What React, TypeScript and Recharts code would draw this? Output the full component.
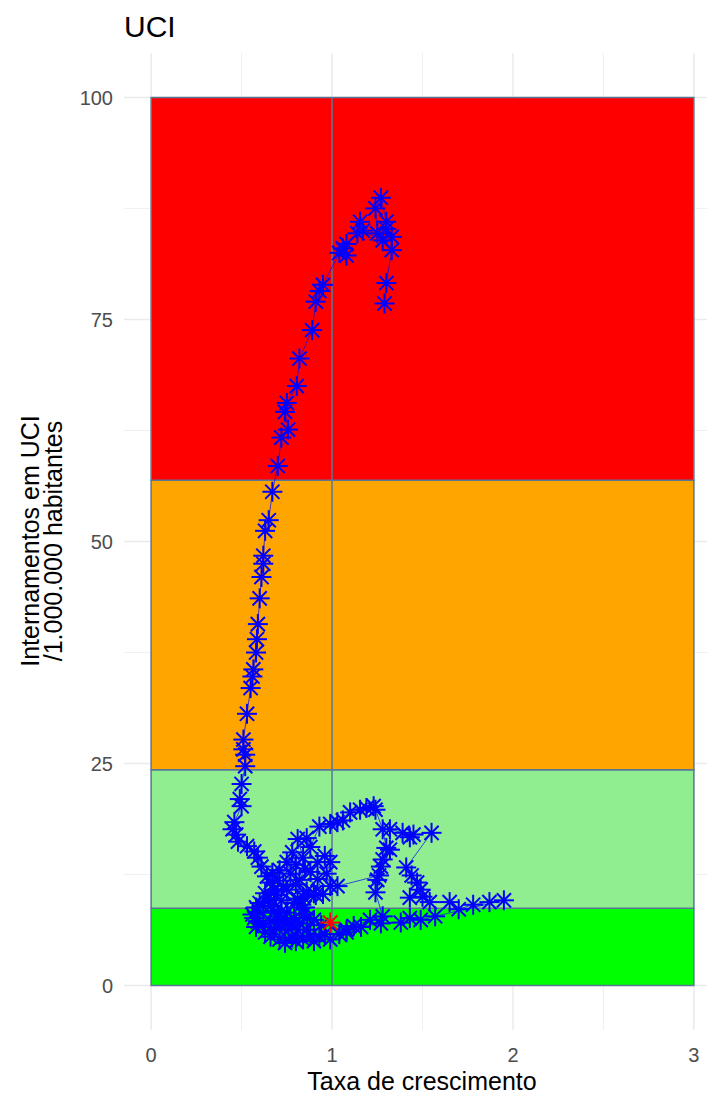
import { ScatterChart, Scatter, XAxis, YAxis, CartesianGrid, ReferenceArea, ReferenceLine } from 'recharts';

// taxa de crescimento (x) e internamentos em UCI por milhão (y), por ordem cronológica, em troços
// pico e descida
const taxaPico = [
    1.29, 1.30, 1.33, 1.33, 1.30, 1.30, 1.27, 1.24, 1.25, 1.28, 1.17, 1.155, 1.14, 1.08, 1.06, 1.08, 1.04,
    0.95, 0.93, 0.91, 0.89, 0.82, 0.805, 0.75, 0.74, 0.757, 0.72, 0.70, 0.67, 0.65, 0.63, 0.62, 0.62, 0.61,
    0.60, 0.59, 0.585, 0.58, 0.565, 0.56, 0.55, 0.53, 0.51, 0.51, 0.52, 0.52, 0.50, 0.49, 0.50, 0.46, 0.45,
    0.47, 0.48,
];
const uciPico = [
    76.8, 79.1, 82.8, 84.3, 85.2, 86.0, 88.7, 87.5, 84.7, 83.9, 85.0, 86.0, 84.7, 83.5, 83.0, 82.2, 82.5,
    78.9, 78.2, 77.0, 73.8, 70.6, 67.5, 65.6, 64.6, 62.6, 61.7, 58.5, 55.6, 52.4, 51.2, 48.4, 47.5, 46.0,
    43.6, 40.7, 39.0, 37.5, 35.6, 34.8, 33.5, 30.6, 27.7, 26.6, 26.0, 24.7, 22.7, 21.0, 20.2, 18.4, 17.6,
    17.0, 16.2,
];
// caracol até ao mínimo
const taxaMinimo = [
    0.53, 0.57, 0.59, 0.61, 0.64, 0.66, 0.68, 0.63, 0.65, 0.60, 0.62, 0.58, 0.60, 0.56, 0.57, 0.59, 0.58,
    0.62, 0.63, 0.66, 0.66, 0.69, 0.68, 0.72, 0.71, 0.74, 0.76, 0.78, 0.80, 0.81, 0.84, 0.86, 0.88, 0.90,
    0.93, 0.96, 0.99, 1.04,
];
const uciMinimo = [
    15.7, 15.1, 14.4, 13.4, 12.3, 11.6, 10.8, 10.4, 9.8, 9.3, 9.0, 8.8, 8.2, 8.0, 7.6, 7.2, 6.6,
    7.0, 6.0, 5.5, 7.3, 6.6, 6.2, 7.4, 5.2, 4.8, 6.4, 5.4, 5.0, 6.3, 5.2, 6.3, 5.6, 5.0,
    5.5, 5.8, 5.2, 5.8,
];
// subida de verão
const taxaVerao = [1.08, 1.12, 1.21, 1.28, 1.24, 1.25, 1.27, 1.28, 1.30, 1.28, 1.24, 1.23, 1.19, 1.155, 1.10, 1.06, 1.03, 0.99, 0.93];
const uciVerao = [6.0, 6.7, 7.4, 7.8, 10.5, 11.9, 13.4, 14.2, 15.5, 17.6, 19.8, 20.2, 20.0, 19.8, 19.5, 18.6, 18.4, 18.2, 17.9];
// nova descida
const taxaOutono = [
    0.88, 0.86, 0.81, 0.84, 0.78, 0.80, 0.75, 0.77, 0.71, 0.67, 0.70, 0.73, 0.75, 0.69, 0.66, 0.68, 0.72,
    0.75, 0.70, 0.74, 0.78, 0.79, 0.82, 0.84, 0.86, 0.90, 0.94, 0.85, 0.83, 0.79, 0.72, 0.81, 0.84, 0.86,
    0.80, 0.82, 0.85, 0.88, 0.90, 0.91, 0.95, 0.92, 0.92, 0.96, 0.99, 0.97, 0.99, 1.03,
];
const uciOutono = [
    15.6, 16.6, 16.5, 14.4, 15.0, 13.6, 13.9, 12.6, 13.0, 12.7, 11.8, 11.2, 10.8, 10.2, 9.0, 8.3, 8.4,
    8.2, 7.8, 7.0, 6.8, 7.6, 7.0, 8.0, 7.6, 7.4, 6.8, 8.8, 9.1, 9.3, 9.6, 9.8, 10.0, 10.6,
    11.4, 11.9, 13.2, 12.8, 10.4, 10.2, 10.3, 12.0, 13.9, 14.6, 13.9, 12.6, 11.2, 11.2,
];
// subida de inverno
const taxaInverno = [1.26, 1.32, 1.32, 1.39, 1.43, 1.45, 1.55, 1.41, 1.44, 1.47, 1.49, 1.43, 1.50, 1.54, 1.65, 1.70, 1.78, 1.87, 1.95];
const uciInverno = [12.4, 15.3, 17.6, 17.2, 16.7, 17.0, 17.2, 13.3, 12.4, 11.6, 10.8, 9.9, 10.0, 9.4, 9.4, 8.6, 9.1, 9.4, 9.6];
// últimos dias (o último é o ponto atual, a vermelho)
const taxaFinal = [1.57, 1.49, 1.43, 1.38, 1.27, 1.16, 1.08, 0.99];
const uciFinal = [7.8, 7.4, 7.6, 7.1, 7.0, 6.6, 6.3, 7.1];

const taxa = [...taxaPico, ...taxaMinimo, ...taxaVerao, ...taxaOutono, ...taxaInverno, ...taxaFinal];
const internamentos = [...uciPico, ...uciMinimo, ...uciVerao, ...uciOutono, ...uciInverno, ...uciFinal];

const limitesFaixa = [0, 8.7, 24.3, 56.9, 100];
const coresFaixa = ['#00ff00', '#90ee90', '#ffa500', '#ff0000'];

const xTicks = [0, 1, 2, 3];
const yTicks = [0, 25, 50, 75, 100];
const xMinor = [0.5, 1.5, 2.5];
const yMinor = [12.5, 37.5, 62.5, 87.5];

const pontos = taxa.map((t, i) => ({ x: t, y: internamentos[i], atual: i === taxa.length - 1 }));

const CONTORNO = '#5a7896';

function Asterisco(props: any) {
    const { cx, cy, payload } = props;
    if (cx == null || cy == null) return null;
    const cor = payload && payload.atual ? '#ff0000' : '#0000ff';
    const r = 10;
    const d = 7.1;
    return (
        <g stroke={cor} strokeWidth={2}>
            <line x1={cx - r} y1={cy} x2={cx + r} y2={cy} />
            <line x1={cx} y1={cy - r} x2={cx} y2={cy + r} />
            <line x1={cx - d} y1={cy - d} x2={cx + d} y2={cy + d} />
            <line x1={cx - d} y1={cy + d} x2={cx + d} y2={cy - d} />
        </g>
    );
}

export default function App() {
    const tickStyle = { fill: '#4d4d4d', fontSize: 20 };
    return (
        <div style={{ position: 'absolute', left: 0, top: 0, width: 707, height: 1096, overflow: 'hidden', background: '#fff', fontFamily: '"Liberation Sans", Arial, sans-serif' }}>
            <ScatterChart width={740} height={1096} margin={{ top: 53, right: 19, bottom: 26, left: 0 }}>
                <CartesianGrid stroke="#ebebeb" strokeWidth={0.8} horizontalValues={yMinor} verticalValues={xMinor} />
                <CartesianGrid stroke="#ebebeb" strokeWidth={1.5} horizontalValues={yTicks} verticalValues={xTicks} />
                <XAxis
                    type="number"
                    dataKey="x"
                    domain={[-0.15, 3.15]}
                    ticks={xTicks}
                    interval={0}
                    allowDataOverflow
                    axisLine={false}
                    tickLine={false}
                    tickSize={0}
                    tickMargin={18}
                    height={40}
                    tick={tickStyle}
                />
                <YAxis
                    type="number"
                    dataKey="y"
                    domain={[-5, 105]}
                    ticks={yTicks}
                    interval={0}
                    allowDataOverflow
                    axisLine={false}
                    tickLine={false}
                    tickSize={0}
                    tickMargin={11}
                    width={124}
                    tick={tickStyle}
                />
                {coresFaixa.map((cor, i) => (
                    <ReferenceArea
                        key={i}
                        x1={0}
                        x2={3}
                        y1={limitesFaixa[i]}
                        y2={limitesFaixa[i + 1]}
                        fill={cor}
                        fillOpacity={1}
                        stroke={CONTORNO}
                        strokeWidth={1.5}
                    />
                ))}
                <ReferenceLine segment={[{ x: 1, y: 0 }, { x: 1, y: 100 }]} stroke={CONTORNO} strokeWidth={1.5} />
                <Scatter
                    data={pontos}
                    isAnimationActive={false}
                    line={{ stroke: '#0000ff', strokeWidth: 0.7 }}
                    lineType="joint"
                    shape={Asterisco}
                />
            </ScatterChart>
            <svg width={707} height={1096} style={{ position: 'absolute', left: 0, top: 0, pointerEvents: 'none' }}>
                <text x={124} y={37} fontSize={30} fill="#000">UCI</text>
                <text x={422} y={1090} fontSize={25} fill="#000" textAnchor="middle">Taxa de crescimento</text>
                <text transform="translate(39,541) rotate(-90)" fontSize={25} fill="#000" textAnchor="middle">Internamentos em UCI</text>
                <text transform="translate(62,541) rotate(-90)" fontSize={25} fill="#000" textAnchor="middle">/1.000.000 habitantes</text>
            </svg>
        </div>
    );
}
